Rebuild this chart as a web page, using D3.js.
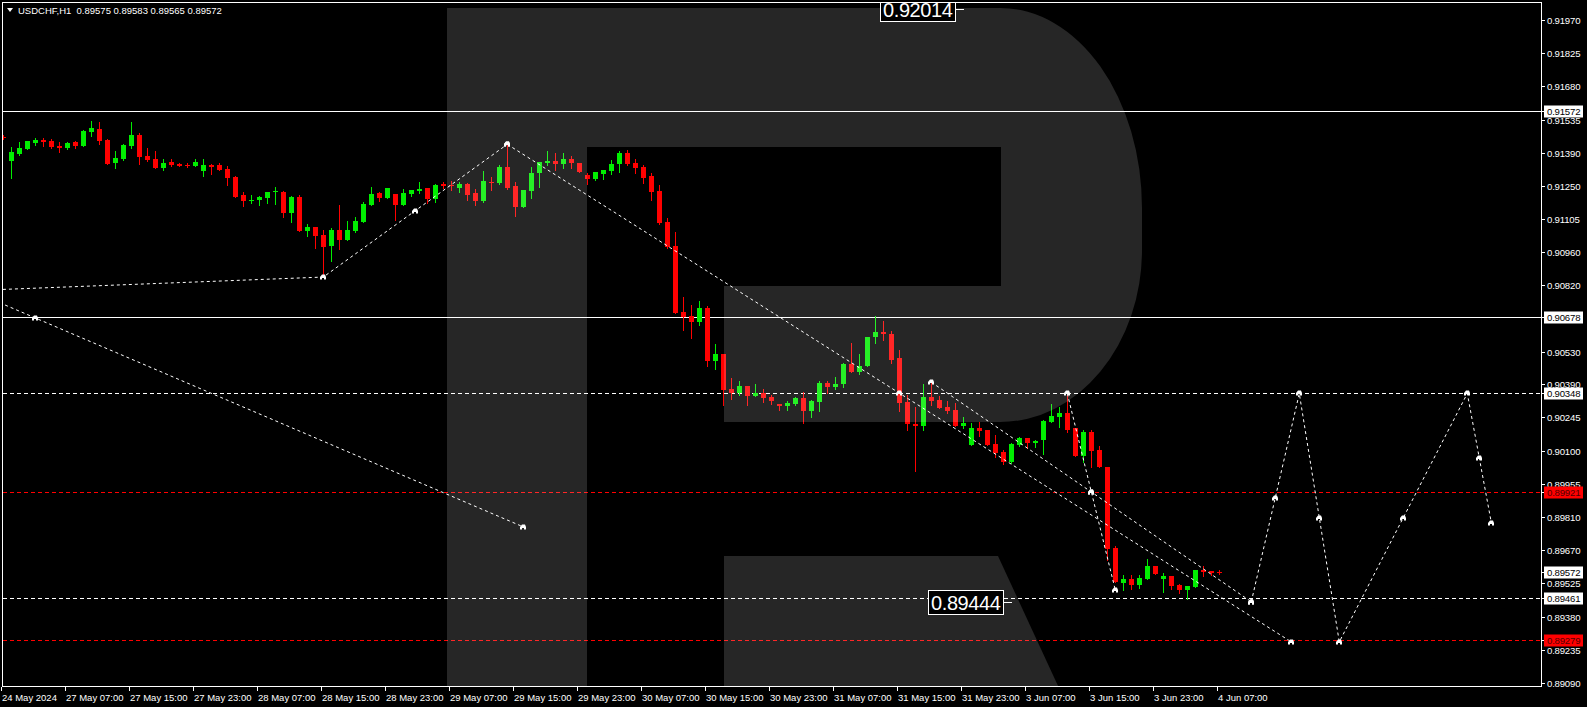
<!DOCTYPE html>
<html><head><meta charset="utf-8">
<script src="https://cdn.jsdelivr.net/npm/d3@7/dist/d3.min.js"></script>
<style>html,body{margin:0;padding:0;background:#000;overflow:hidden}svg{display:block}text{font-family:"Liberation Sans",Arial,sans-serif}</style>
</head><body><svg id="c" width="1587" height="707"></svg>
<script>
// ---------- DATA ----------
const symbolTitle = "USDCHF,H1";
const lastQuote = [0.89575, 0.89583, 0.89565, 0.89572];
// hourly bars, index 0 = 24 May 23:00 ... index 152 = 4 Jun 07:00
const opens = [0.91462,0.91357,0.91387,0.91409,0.91436,0.91449,0.91444,0.91422,0.91413,0.91439,0.91423,0.91483,0.91496,0.91448,0.91348,0.91364,0.91422,0.91470,0.91378,0.91365,0.91326,0.91352,0.91345,0.91341,0.91336,0.91313,0.91339,0.91339,0.91322,0.91287,0.91209,0.91184,0.91187,0.91196,0.91221,0.91223,0.91130,0.91200,0.91052,0.91070,0.91035,0.90987,0.91057,0.91013,0.91052,0.91091,0.91165,0.91217,0.91196,0.91213,0.91165,0.91213,0.91226,0.91239,0.91191,0.91257,0.91252,0.91239,0.91257,0.91217,0.91183,0.91267,0.91261,0.91331,0.91248,0.91158,0.91226,0.91304,0.91348,0.91357,0.91344,0.91365,0.91348,0.91296,0.91278,0.91300,0.91313,0.91344,0.91391,0.91348,0.91331,0.91291,0.91226,0.91091,0.90987,0.90700,0.90682,0.90656,0.90717,0.90487,0.90517,0.90369,0.90352,0.90382,0.90339,0.90352,0.90334,0.90304,0.90295,0.90304,0.90330,0.90273,0.90313,0.90395,0.90374,0.90387,0.90474,0.90443,0.90465,0.90591,0.90613,0.90608,0.90500,0.90313,0.90217,0.90208,0.90334,0.90321,0.90291,0.90278,0.90208,0.90126,0.90200,0.90191,0.90130,0.90095,0.90052,0.90126,0.90156,0.90134,0.90147,0.90226,0.90247,0.90265,0.90200,0.90078,0.90182,0.90104,0.90030,0.89678,0.89525,0.89543,0.89517,0.89543,0.89599,0.89543,0.89556,0.89517,0.89495,0.89508,0.89582,0.89578,0.89575];
const highs = [0.91468,0.91418,0.91439,0.91445,0.91457,0.91457,0.91451,0.91439,0.91438,0.91444,0.91490,0.91531,0.91526,0.91451,0.91400,0.91431,0.91526,0.91477,0.91413,0.91400,0.91364,0.91364,0.91349,0.91347,0.91364,0.91365,0.91345,0.91349,0.91335,0.91291,0.91222,0.91209,0.91204,0.91222,0.91244,0.91227,0.91204,0.91209,0.91083,0.91070,0.91057,0.91065,0.91165,0.91096,0.91113,0.91178,0.91244,0.91222,0.91239,0.91213,0.91235,0.91231,0.91265,0.91239,0.91257,0.91265,0.91270,0.91265,0.91261,0.91235,0.91313,0.91287,0.91339,0.91438,0.91265,0.91231,0.91331,0.91352,0.91400,0.91391,0.91391,0.91378,0.91348,0.91304,0.91309,0.91318,0.91361,0.91400,0.91405,0.91365,0.91339,0.91304,0.91252,0.91109,0.91048,0.90765,0.90730,0.90748,0.90726,0.90561,0.90517,0.90413,0.90400,0.90382,0.90391,0.90369,0.90343,0.90304,0.90317,0.90334,0.90356,0.90321,0.90404,0.90400,0.90421,0.90478,0.90565,0.90517,0.90595,0.90682,0.90661,0.90617,0.90535,0.90343,0.90291,0.90387,0.90400,0.90339,0.90317,0.90308,0.90247,0.90221,0.90226,0.90191,0.90169,0.90104,0.90134,0.90160,0.90156,0.90147,0.90234,0.90304,0.90291,0.90343,0.90200,0.90191,0.90191,0.90121,0.90030,0.89686,0.89560,0.89560,0.89560,0.89630,0.89599,0.89569,0.89556,0.89521,0.89512,0.89582,0.89599,0.89578,0.89583];
const lows = [0.91451,0.91284,0.91384,0.91408,0.91428,0.91423,0.91415,0.91397,0.91410,0.91415,0.91423,0.91465,0.91432,0.91345,0.91328,0.91361,0.91413,0.91345,0.91357,0.91328,0.91318,0.91336,0.91333,0.91332,0.91336,0.91291,0.91301,0.91318,0.91252,0.91200,0.91161,0.91175,0.91165,0.91174,0.91170,0.91112,0.91091,0.91052,0.91030,0.90978,0.90856,0.90922,0.90974,0.91013,0.91048,0.91091,0.91165,0.91183,0.91196,0.91100,0.91165,0.91204,0.91217,0.91174,0.91178,0.91241,0.91231,0.91222,0.91187,0.91165,0.91178,0.91231,0.91258,0.91235,0.91117,0.91158,0.91196,0.91244,0.91339,0.91318,0.91326,0.91326,0.91309,0.91257,0.91274,0.91278,0.91300,0.91309,0.91339,0.91304,0.91261,0.91187,0.91083,0.90978,0.90695,0.90622,0.90587,0.90643,0.90469,0.90452,0.90300,0.90326,0.90343,0.90300,0.90339,0.90313,0.90304,0.90278,0.90278,0.90300,0.90221,0.90247,0.90273,0.90352,0.90369,0.90378,0.90439,0.90434,0.90465,0.90565,0.90582,0.90478,0.90273,0.90191,0.90013,0.90191,0.90300,0.90287,0.90265,0.90208,0.90200,0.90126,0.90165,0.90126,0.90073,0.90043,0.90047,0.90121,0.90113,0.90117,0.90086,0.90226,0.90204,0.90182,0.90078,0.90052,0.90030,0.90030,0.89625,0.89530,0.89495,0.89499,0.89504,0.89543,0.89564,0.89486,0.89499,0.89482,0.89456,0.89508,0.89556,0.89560,0.89565];
const closes = [0.91459,0.91395,0.91413,0.91444,0.91448,0.91441,0.91418,0.91413,0.91435,0.91423,0.91487,0.91500,0.91444,0.91345,0.91370,0.91426,0.91470,0.91374,0.91361,0.91328,0.91349,0.91339,0.91336,0.91336,0.91352,0.91339,0.91331,0.91318,0.91283,0.91200,0.91183,0.91188,0.91200,0.91222,0.91225,0.91130,0.91200,0.91052,0.91070,0.91030,0.90983,0.91057,0.91013,0.91057,0.91096,0.91170,0.91213,0.91196,0.91239,0.91165,0.91217,0.91231,0.91235,0.91191,0.91252,0.91248,0.91247,0.91257,0.91209,0.91183,0.91270,0.91264,0.91331,0.91238,0.91158,0.91231,0.91304,0.91352,0.91357,0.91344,0.91365,0.91348,0.91309,0.91278,0.91309,0.91318,0.91344,0.91391,0.91344,0.91326,0.91283,0.91222,0.91087,0.90983,0.90695,0.90678,0.90656,0.90717,0.90487,0.90517,0.90365,0.90352,0.90382,0.90339,0.90352,0.90330,0.90317,0.90295,0.90308,0.90330,0.90273,0.90317,0.90395,0.90374,0.90391,0.90474,0.90439,0.90469,0.90595,0.90613,0.90604,0.90495,0.90308,0.90217,0.90208,0.90334,0.90317,0.90287,0.90273,0.90208,0.90221,0.90200,0.90187,0.90126,0.90091,0.90052,0.90130,0.90156,0.90134,0.90143,0.90230,0.90252,0.90265,0.90191,0.90078,0.90182,0.90100,0.90030,0.89673,0.89530,0.89543,0.89517,0.89547,0.89599,0.89564,0.89556,0.89512,0.89495,0.89512,0.89582,0.89573,0.89569,0.89572];

const timeLabels = ["24 May 2024","27 May 07:00","27 May 15:00","27 May 23:00","28 May 07:00","28 May 15:00","28 May 23:00","29 May 07:00","29 May 15:00","29 May 23:00","30 May 07:00","30 May 15:00","30 May 23:00","31 May 07:00","31 May 15:00","31 May 23:00","3 Jun 07:00","3 Jun 15:00","3 Jun 23:00","4 Jun 07:00"];
const timeLabelBars = [0,8,16,24,32,40,48,56,64,72,80,88,96,104,112,120,128,136,144,152];
const priceTicks = [0.91970,0.91825,0.91680,0.91535,0.91390,0.91250,0.91105,0.90960,0.90820,0.90530,0.90390,0.90245,0.90100,0.89955,0.89810,0.89670,0.89525,0.89380,0.89235,0.89090];

const solidLevels = [0.91572, 0.90678];
const whiteDashLevels = [0.90348, 0.89461];
const redDashLevels = [0.89921, 0.89279];

// trend / forecast polylines: [bar index, price]
const trendA = [[-57, 0.91582], [65, 0.89769]];
const trendB = [[-60, 0.90719], [40, 0.90853], [63, 0.91429]];
const trendC = [[63, 0.91429], [161, 0.89270]];
const trendD = [[116, 0.90397], [156, 0.89444]];
const zigzag = [[133, 0.90348], [139, 0.89495]];
const forecast = [[156, 0.89444], [162, 0.90348], [167, 0.89270], [183, 0.90348], [186, 0.89788]];

const priceNotes = [0.92014, 0.89444];
const priceNoteBars = [119, 125];

// ---------- DRAW ----------
const W = 1587, H = 707;
const svg = d3.select("#c");
svg.append("rect").attr("width", W).attr("height", H).attr("fill", "#000");

const x = d3.scaleLinear().domain([0, 152]).range([3.3, 1219.3]);
const y = d3.scaleLinear().domain([0.89090, 0.91970]).range([683.4, 19.6]);

const defs = svg.append("defs");
defs.append("clipPath").attr("id", "clip").append("rect").attr("x", 3).attr("y", 3).attr("width", 1538).attr("height", 683);

const g = svg.append("g").attr("clip-path", "url(#clip)");

// horizontal levels
const hl = (arr, color, dash) => g.selectAll(null).data(arr).enter().append("line")
  .attr("x1", 3).attr("x2", 1541).attr("y1", d => Math.round(y(d)) + 0.5).attr("y2", d => Math.round(y(d)) + 0.5)
  .attr("stroke", color).attr("stroke-width", 1).attr("stroke-dasharray", dash);
hl(solidLevels, "#fff", null);
hl(whiteDashLevels, "#fff", "4,3");
hl(redDashLevels, "#ff0000", "4,3");

// candles
const bars = d3.range(opens.length).map(i => ({i, o: opens[i], h: highs[i], l: lows[i], c: closes[i]}));
const cg = g.append("g").attr("shape-rendering", "crispEdges");
const col = d => d.c >= d.o ? "#00ee00" : "#ff0000";
cg.selectAll(".w").data(bars).enter().append("rect")
  .attr("x", d => Math.round(x(d.i))).attr("width", 1)
  .attr("y", d => Math.round(y(d.h))).attr("height", d => Math.max(1, Math.round(y(d.l)) - Math.round(y(d.h)) + 1))
  .attr("fill", col);
cg.selectAll(".b").data(bars).enter().append("rect")
  .attr("x", d => Math.round(x(d.i)) - 2).attr("width", 5)
  .attr("y", d => Math.round(y(Math.max(d.o, d.c))))
  .attr("height", d => Math.max(1, Math.round(y(Math.min(d.o, d.c))) - Math.round(y(Math.max(d.o, d.c)))))
  .attr("fill", col);

// watermark "R" (translucent overlay)
const wm = g.append("g").attr("fill", "#fff").attr("fill-opacity", 0.15);
wm.append("rect").attr("x", 447).attr("y", 8).attr("width", 140).attr("height", 680);
wm.append("path").attr("d", "M587,8 H1000 A142,200 0 0 1 1142,208 V250 A142,172 0 0 1 1000,422 H724 V286 H1001 V147 H587 Z");
wm.append("path").attr("d", "M724,556 H998 L1059,688 H724 Z");

// trend lines
const line = d3.line().x(d => x(d[0])).y(d => y(d[1]));
const tg = g.append("g");
[trendA, trendB, trendC, trendD, zigzag, forecast].forEach(pts => {
  tg.append("path").attr("d", line(pts)).attr("fill", "none").attr("stroke", "#fff")
    .attr("stroke-width", 1).attr("stroke-dasharray", "3,3");
});
// markers at vertices and segment midpoints
const marks = [];
[trendA, trendB, trendC, trendD, zigzag, forecast].forEach(pts => {
  for (let k = 0; k < pts.length; k++) {
    marks.push(pts[k]);
    if (k < pts.length - 1) marks.push([(pts[k][0] + pts[k + 1][0]) / 2, (pts[k][1] + pts[k + 1][1]) / 2]);
  }
});
tg.selectAll(".m").data(marks).enter().append("path")
  .attr("transform", d => `translate(${Math.round(x(d[0]))},${Math.round(y(d[1]))})`)
  .attr("d", "M-3,2.5 L-3,0 L-1,-2.5 L2,-2.5 L3,0 L3,2.5 L1,2.5 L1,1 L-1,1 L-1,2.5 Z")
  .attr("fill", "#fff");

// price note boxes
priceNotes.forEach((p, k) => {
  const xr = Math.round(x(priceNoteBars[k]));
  const yc = Math.round(y(p));
  g.append("rect").attr("x", xr - 75 + 0.5).attr("y", yc - 12 + 0.5).attr("width", 75).attr("height", 24)
    .attr("fill", "#000").attr("stroke", "#fff").attr("stroke-width", 1);
  g.append("line").attr("x1", xr).attr("x2", xr + 9).attr("y1", yc + 0.5).attr("y2", yc + 0.5).attr("stroke", "#fff");
  g.append("text").attr("x", xr - 72).attr("y", yc + 8).attr("fill", "#fff")
    .attr("font-size", 20).attr("letter-spacing", -0.4).text(d3.format(".5f")(p));
});

// frame
svg.append("rect").attr("x", 2.5).attr("y", 2.5).attr("width", 1539).attr("height", 684)
  .attr("fill", "none").attr("stroke", "#fff").attr("stroke-width", 1);

// right price axis
const ax = svg.append("g");
ax.selectAll(".pt").data(priceTicks).enter().append("line")
  .attr("x1", 1541).attr("x2", 1545).attr("y1", d => Math.round(y(d)) + 0.5).attr("y2", d => Math.round(y(d)) + 0.5)
  .attr("stroke", "#fff");
ax.selectAll(".pl").data(priceTicks).enter().append("text")
  .attr("x", 1547).attr("y", d => Math.round(y(d)) + 4)
  .attr("fill", "#fff").attr("font-size", 9.6).attr("letter-spacing", -0.2)
  .text(d => d3.format(".5f")(d));

const boxes = [
  ...solidLevels.map(p => ({p, bg: "#fff", fg: "#000"})),
  ...whiteDashLevels.map(p => ({p, bg: "#fff", fg: "#000"})),
  {p: lastQuote[3], bg: "#fff", fg: "#000"},
  ...redDashLevels.map(p => ({p, bg: "#ff0000", fg: "#500000"}))
];
boxes.forEach(b => {
  const yc = Math.round(y(b.p));
  ax.append("line").attr("x1", 1541).attr("x2", 1544).attr("y1", yc + 0.5).attr("y2", yc + 0.5).attr("stroke", "#fff");
  ax.append("rect").attr("x", 1544).attr("y", yc - 5.5).attr("width", 39).attr("height", 12).attr("fill", b.bg);
  ax.append("text").attr("x", 1547).attr("y", yc + 4).attr("fill", b.fg).attr("font-size", 9.6)
    .attr("letter-spacing", -0.2).text(d3.format(".5f")(b.p));
});

// bottom time axis
const bx = svg.append("g");
bx.selectAll(".tt").data(timeLabelBars).enter().append("line")
  .attr("x1", d => Math.round(x(d)) - 1.5).attr("x2", d => Math.round(x(d)) - 1.5)
  .attr("y1", 687).attr("y2", 691).attr("stroke", "#fff");
bx.selectAll(".tl").data(timeLabelBars).enter().append("text")
  .attr("x", d => Math.round(x(d)) - 1).attr("y", 701)
  .attr("fill", "#fff").attr("font-size", 9.5)
  .text((d, k) => timeLabels[k]);

// title
svg.append("path").attr("d", "M7,8 L13,8 L10,12 Z").attr("fill", "#fff");
svg.append("text").attr("x", 18).attr("y", 14).attr("fill", "#fff").attr("font-size", 9.5)
  .attr("xml:space", "preserve")
  .text(symbolTitle + "  " + lastQuote.map(d3.format(".5f")).join(" "));
</script>
</body></html>
